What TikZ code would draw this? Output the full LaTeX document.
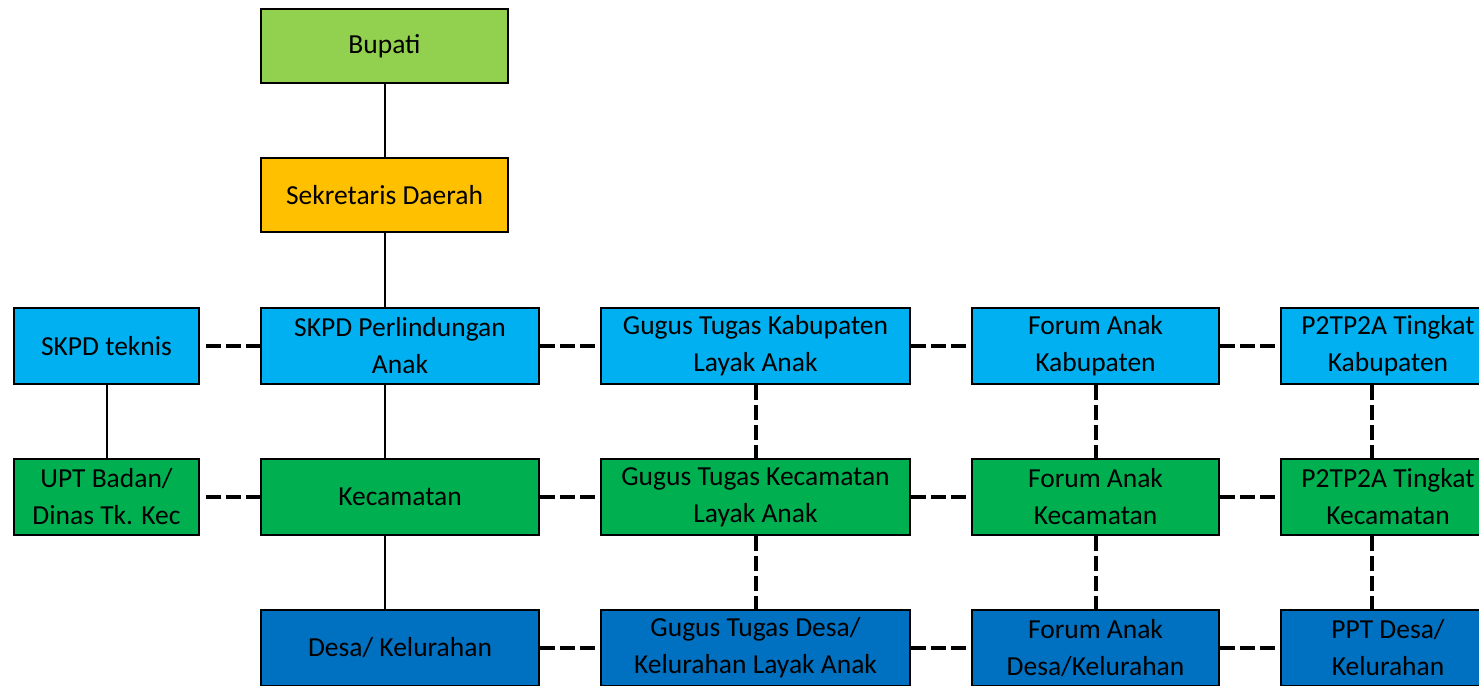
\documentclass[tikz,border=0pt]{standalone}
\usepackage{fontspec}
\setmainfont{Carlito}
\definecolor{cBup}{HTML}{92D050}
\definecolor{cSek}{HTML}{FFC000}
\definecolor{cLB}{HTML}{00B0F0}
\definecolor{cGr}{HTML}{00B050}
\definecolor{cBl}{HTML}{0070C0}
\tikzset{
  box/.style={draw=black, line width=2.5pt, rectangle, inner sep=0pt, align=center,
    font=\fontsize{27.5}{37}\selectfont, text=black},
  solidline/.style={draw=black, line width=2pt},
  dashline/.style={draw=black, line width=4pt, dash pattern=on 15pt off 5pt}
}
\begin{document}
\begin{tikzpicture}[x=1pt,y=-1pt]
\clip (0,0) rectangle (1479,685);
\fill[white] (0,0) rectangle (1479,685);
% helper: box from (l,t) to (r,b)
\newcommand{\mybox}[7]{%
  \node[box, fill=#6, minimum width={#4-#2}, minimum height={#5-#3}] (#1) at ({(#2+#4)/2},{(#3+#5)/2}) {#7};}
\mybox{bupati}{261}{9}{508}{83}{cBup}{Bupati}
\mybox{sekda}{261}{158}{508}{232}{cSek}{Sekretaris Daerah}
\mybox{skpdt}{14}{308}{199}{384}{cLB}{SKPD teknis}
\mybox{skpdpa}{261}{308}{539}{384}{cLB}{SKPD Perlindungan\\Anak}
\mybox{gtk}{601}{308}{910}{384}{cLB}{Gugus Tugas Kabupaten\\Layak Anak}
\mybox{fak}{972}{308}{1219}{384}{cLB}{Forum Anak\\Kabupaten}
\mybox{pk}{1281}{308}{1495}{384}{cLB}{P2TP2A Tingkat\\Kabupaten}
\mybox{upt}{14}{459}{199}{535}{cGr}{UPT Badan/\\Dinas Tk. Kec}
\mybox{kec}{261}{459}{539}{535}{cGr}{Kecamatan}
\mybox{gtkec}{601}{459}{910}{535}{cGr}{Gugus Tugas Kecamatan\\Layak Anak}
\mybox{fakec}{972}{459}{1219}{535}{cGr}{Forum Anak\\Kecamatan}
\mybox{pkec}{1281}{459}{1495}{535}{cGr}{P2TP2A Tingkat\\Kecamatan}
\mybox{desa}{261}{610}{539}{686}{cBl}{Desa/ Kelurahan}
\mybox{gtd}{601}{610}{910}{686}{cBl}{Gugus Tugas Desa/\\Kelurahan Layak Anak}
\mybox{fad}{972}{610}{1219}{686}{cBl}{Forum Anak\\Desa/Kelurahan}
\mybox{ppt}{1281}{610}{1495}{686}{cBl}{PPT Desa/\\Kelurahan}
\coordinate (pline) at (1372,0);
% solid connectors
\draw[solidline] (bupati.south) -- (sekda.north);
\draw[solidline] (sekda.south) -- (sekda.south |- skpdpa.north);
\draw[solidline] (skpdpa.south -| sekda.south) -- (kec.north -| sekda.south);
\draw[solidline] (kec.south -| sekda.south) -- (desa.north -| sekda.south);
\draw[solidline] (skpdt.south) -- (upt.north);
% dashed horizontal
\draw[dashline, shorten <=6pt] (skpdt.east) -- (skpdpa.west);
\draw[dashline] (skpdpa.east) -- (gtk.west);
\draw[dashline] (gtk.east) -- (fak.west);
\draw[dashline] (fak.east) -- (pk.west);
\draw[dashline, shorten <=6pt] (upt.east) -- (kec.west);
\draw[dashline] (kec.east) -- (gtkec.west);
\draw[dashline] (gtkec.east) -- (fakec.west);
\draw[dashline] (fakec.east) -- (pkec.west);
\draw[dashline] (desa.east) -- (gtd.west);
\draw[dashline] (gtd.east) -- (fad.west);
\draw[dashline] (fad.east) -- (ppt.west);
% dashed vertical
\draw[dashline] (gtk.south) -- (gtkec.north);
\draw[dashline] (gtkec.south) -- (gtd.north);
\draw[dashline] (fak.south) -- (fakec.north);
\draw[dashline] (fakec.south) -- (fad.north);
\draw[dashline] (pk.south -| pline) -- (pkec.north -| pline);
\draw[dashline] (pkec.south -| pline) -- (ppt.north -| pline);
\end{tikzpicture}
\end{document}
